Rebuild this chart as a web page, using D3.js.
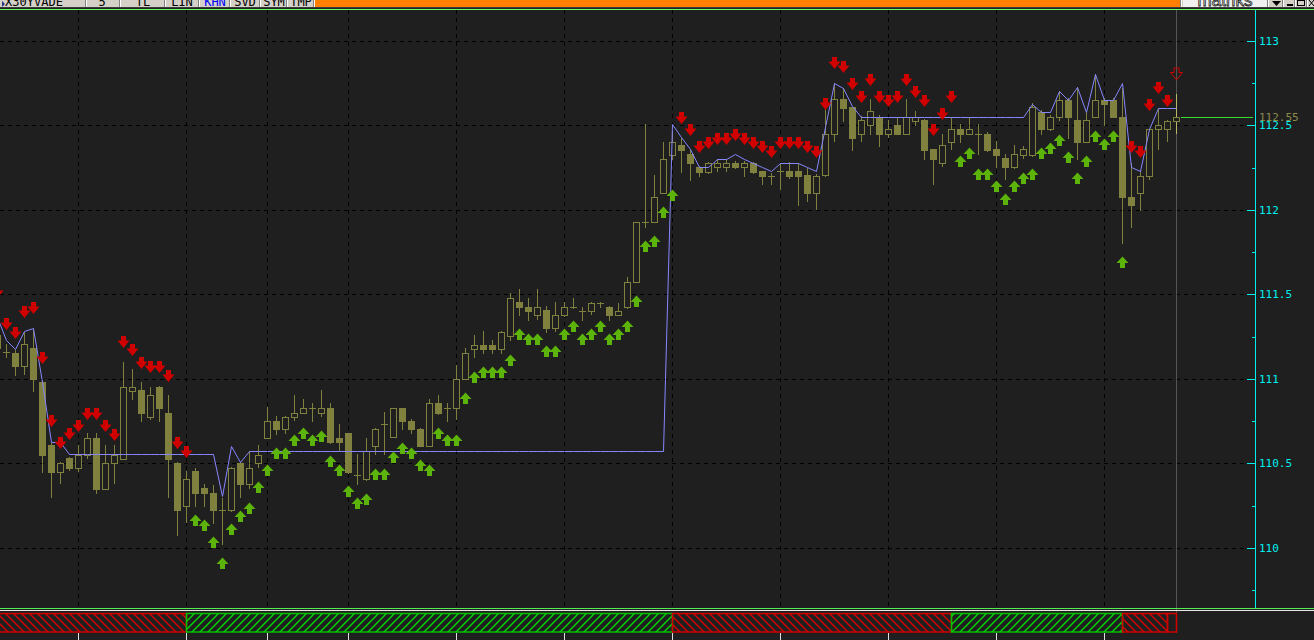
<!DOCTYPE html>
<html><head><meta charset="utf-8">
<script src="https://cdn.jsdelivr.net/npm/d3@7"></script>
<style>html,body{margin:0;padding:0;background:#1f1f1f;overflow:hidden}svg{display:block}</style>
</head><body>
<svg id="c" width="1314" height="640"></svg>
<script>
// ---- DATA (one entry per bar, oldest first) ----
const opens=[
111.26,111.159,111.155,111.076,111.18,110.981,110.607,110.449,110.53,110.473,
110.549,110.652,110.35,110.504,110.528,110.93,110.932,110.776,110.954,110.8,
110.504,110.247,110.453,110.352,110.327,110.226,110.224,110.504,110.38,110.504,
110.65,110.753,110.701,110.776,110.8,110.83,110.8,110.83,110.652,110.678,
110.429,110.405,110.602,110.731,110.654,110.83,110.753,110.705,110.602,110.855,
110.83,110.83,111.001,111.179,111.202,111.202,111.179,111.253,111.453,111.427,
111.378,111.405,111.3,111.378,111.427,111.403,111.401,111.451,111.427,111.378,
111.427,111.575,111.93,111.93,112.102,112.325,112.382,112.328,112.256,112.224,
112.256,112.256,112.279,112.256,112.279,112.23,112.2,112.23,112.228,112.228,
112.204,112.102,112.204,112.451,112.654,112.607,112.451,112.504,112.551,112.451,
112.504,112.451,112.525,112.53,112.358,112.279,112.404,112.48,112.451,112.451,
112.451,112.358,112.305,112.253,112.325,112.325,112.581,112.476,112.551,112.652,
112.53,112.401,112.551,112.652,112.652,112.551,112.078,112.102,112.2,112.48,
112.48,112.528];
const highs=[
111.30,111.204,111.17,111.275,111.293,110.99,110.62,110.51,110.54,110.607,
110.678,110.678,110.607,110.607,111.102,111.056,110.981,110.954,110.96,110.902,
110.51,110.454,110.475,110.38,110.37,110.297,110.48,110.51,110.573,110.607,
110.831,110.78,110.78,110.902,110.879,110.855,110.932,110.855,110.731,110.68,
110.553,110.652,110.71,110.806,110.83,110.83,110.76,110.71,110.879,110.902,
110.855,111.08,111.182,111.257,111.281,111.228,111.28,111.506,111.53,111.478,
111.53,111.43,111.453,111.453,111.48,111.427,111.455,111.455,111.43,111.451,
111.605,111.93,112.506,112.204,112.404,112.464,112.427,112.358,112.26,112.28,
112.299,112.3,112.29,112.29,112.28,112.23,112.22,112.279,112.28,112.279,
112.25,112.21,112.618,112.753,112.723,112.61,112.555,112.654,112.56,112.53,
112.549,112.654,112.583,112.54,112.36,112.451,112.549,112.506,112.549,112.506,
112.46,112.407,112.328,112.382,112.38,112.63,112.59,112.56,112.703,112.66,
112.729,112.579,112.802,112.66,112.66,112.723,112.279,112.234,112.48,112.601,
112.53,112.683];
const lows=[
111.15,111.127,111.021,111.027,110.928,110.449,110.301,110.386,110.46,110.454,
110.534,110.327,110.35,110.386,110.528,110.879,110.75,110.76,110.75,110.301,
110.074,110.153,110.247,110.247,110.145,110.025,110.22,110.303,110.356,110.48,
110.65,110.672,110.678,110.756,110.8,110.75,110.78,110.62,110.577,110.44,
110.38,110.4,110.553,110.553,110.654,110.705,110.678,110.6,110.6,110.79,
110.75,110.76,111.0,111.129,111.155,111.155,111.155,111.228,111.376,111.348,
111.356,111.277,111.281,111.37,111.42,111.348,111.382,111.427,111.348,111.375,
111.42,111.57,111.901,111.93,112.1,112.3,112.224,112.176,112.2,112.22,
112.23,112.23,112.25,112.2,112.22,112.153,112.155,112.125,112.19,112.027,
112.052,112.007,112.2,112.407,112.525,112.352,112.407,112.451,112.378,112.43,
112.45,112.45,112.504,112.303,112.151,112.259,112.358,112.404,112.45,112.328,
112.35,112.253,112.18,112.25,112.305,112.32,112.447,112.47,112.53,112.423,
112.303,112.4,112.55,112.502,112.55,111.806,111.898,112.0,112.18,112.362,
112.407,112.457];
const closes=[
111.18,111.159,111.076,111.204,110.997,110.549,110.449,110.504,110.47,110.549,
110.652,110.346,110.504,110.549,110.954,110.954,110.8,110.902,110.827,110.524,
110.222,110.405,110.324,110.324,110.224,110.226,110.475,110.376,110.475,110.551,
110.753,110.701,110.776,110.8,110.83,110.83,110.83,110.626,110.626,110.449,
110.429,110.573,110.705,110.731,110.83,110.75,110.705,110.602,110.855,110.8,
110.83,111.001,111.155,111.202,111.179,111.179,111.279,111.48,111.425,111.399,
111.427,111.299,111.38,111.427,111.427,111.403,111.451,111.451,111.378,111.403,
111.575,111.93,111.93,112.078,112.303,112.402,112.354,112.275,112.224,112.279,
112.279,112.279,112.256,112.279,112.224,112.2,112.2,112.23,112.2,112.2,
112.102,112.2,112.451,112.654,112.602,112.425,112.53,112.583,112.451,112.48,
112.451,112.551,112.551,112.354,112.303,112.382,112.48,112.451,112.48,112.451,
112.354,112.322,112.253,112.328,112.358,112.611,112.476,112.551,112.652,112.551,
112.401,112.53,112.652,112.626,112.551,112.078,112.031,112.2,112.48,112.504,
112.528,112.551];
const stopLine=[
111.364,111.228,111.175,111.283,111.303,110.979,110.628,110.628,110.553,110.553,
110.553,110.553,110.553,110.553,110.553,110.553,110.553,110.553,110.553,110.553,
110.553,110.553,110.553,110.553,110.553,110.307,110.602,110.508,110.573,110.573,
110.573,110.573,110.573,110.573,110.573,110.573,110.573,110.573,110.573,110.573,
110.573,110.573,110.573,110.573,110.573,110.573,110.573,110.573,110.573,110.573,
110.573,110.573,110.573,110.573,110.573,110.573,110.573,110.573,110.573,110.573,
110.573,110.573,110.573,110.573,110.573,110.573,110.573,110.573,110.573,110.573,
110.573,110.573,110.573,110.573,110.573,112.506,112.429,112.358,112.256,112.256,
112.303,112.303,112.328,112.303,112.279,112.256,112.23,112.279,112.279,112.279,
112.256,112.23,112.491,112.753,112.723,112.614,112.551,112.551,112.551,112.551,
112.551,112.551,112.551,112.551,112.551,112.551,112.551,112.551,112.551,112.551,
112.551,112.551,112.551,112.551,112.551,112.628,112.581,112.581,112.703,112.652,
112.727,112.581,112.802,112.652,112.652,112.753,112.256,112.23,112.48,112.601,
112.601,112.601];
// D = sell arrow above the bar, U = buy arrow below the bar, d = pending sell
const signals=[
"D","D","D","D","D","D","D","D","D","D","D","D","D","D","D","D","D","D","D","D","D","D",
"U","U","U","U","U","U","U","U","U","U","U","U","U","U","U","U","U","U","U","U","U","U","U","U","U","U","U",
"U","U","U","U","U","U","U","U","U","U","U","U","U","U","U","U","U","U","U","U","U","U","U","U","U","U","U",
"D","D","D","D","D","D","D","D","D","D","D","D","D","D","D","D","D","D","D","D","D","D","D","D","D","D","D","D","D","D","D",
"U","U","U","U","U","U","U","U","U","U","U","U","U","U","U","U","U","U","U",
"D","D","D","D","D","d"];
const arrowLevels=[
111.482,111.293,111.244,111.368,111.392,111.092,110.721,110.593,110.642,110.691,
110.765,110.765,110.691,110.638,111.191,111.141,111.064,111.04,111.04,110.987,
110.591,110.54,110.192,110.163,110.062,109.938,110.139,110.216,110.263,110.388,
110.488,110.589,110.589,110.666,110.711,110.666,110.689,110.541,110.488,110.364,
110.293,110.317,110.464,110.464,110.565,110.618,110.589,110.518,110.488,110.711,
110.666,110.666,110.914,111.038,111.068,111.068,111.068,111.139,111.293,111.263,
111.263,111.192,111.192,111.293,111.34,111.263,111.293,111.34,111.263,111.293,
111.34,111.488,111.814,111.843,112.015,112.115,112.516,112.445,112.344,112.368,
112.392,112.392,112.415,112.392,112.368,112.344,112.315,112.368,112.368,112.368,
112.344,112.315,112.595,112.841,112.815,112.715,112.638,112.738,112.638,112.614,
112.638,112.738,112.667,112.614,112.443,112.537,112.638,112.318,112.364,112.24,
112.24,112.169,112.092,112.169,112.216,112.24,112.364,112.393,112.441,112.34,
112.216,112.317,112.464,112.417,112.464,111.719,112.342,112.312,112.591,112.691,
112.614,112.776];
const gridBars=[9,21,30,39,51,63,75,87,99,111,123];
const yTicks=[110,110.5,111,111.5,112,112.5,113];
const yMinorTicks=[109.75,110.25,110.75,111.25,111.75,112.25,112.75];
const lastPrice=112.55;
const toolbarLabels=["X30YVADE","5","TL","LIN","KHN","SVD","SYM","TMP"];

// ---- DRAWING ----
const W=1314,H=640;
const BG="#1f1f1f", OLIVE="#80803f", RED="#d00000", GREEN="#5cb40a";
const svg=d3.select("#c");
const n=opens.length;
const x=d3.scaleLinear().domain([0,n-1]).range([-3,1176]);
const y=d3.scaleLinear().domain([110,113]).range([548.3,41.3])
  .interpolate((a,b)=>t=>Math.floor(a+(b-a)*t));

svg.append("rect").attr("width",W).attr("height",H).attr("fill",BG);
const defs=svg.append("defs");
defs.append("clipPath").attr("id","plot").append("rect").attr("x",0).attr("y",10).attr("width",1247).attr("height",598);
defs.append("clipPath").attr("id","tb").append("rect").attr("x",0).attr("y",0).attr("width",W).attr("height",7);
defs.append("clipPath").attr("id","strip").append("rect").attr("x",0).attr("y",611).attr("width",1250).attr("height",25);
const pr=defs.append("pattern").attr("id","hatchRed").attr("patternUnits","userSpaceOnUse").attr("width",8).attr("height",8);
pr.append("path").attr("d","M0,0L8,8M-1,7L1,9M7,-1L9,1").attr("stroke","#e00000").attr("stroke-width",1.3).attr("fill","none");
const pg=defs.append("pattern").attr("id","hatchGreen").attr("patternUnits","userSpaceOnUse").attr("width",8).attr("height",8);
pg.append("path").attr("d","M0,8L8,0M-1,1L1,-1M7,9L9,7").attr("stroke","#00e000").attr("stroke-width",1.3).attr("fill","none");

// grid
const grid=svg.append("g").attr("stroke","#000").attr("stroke-dasharray","4,4").attr("shape-rendering","crispEdges");
grid.selectAll("line.h").data(yTicks).enter().append("line").attr("class","h")
  .attr("x1",0).attr("x2",1247).attr("y1",d=>y(d)+0.5).attr("y2",d=>y(d)+0.5);
grid.selectAll("line.v").data(gridBars).enter().append("line").attr("class","v")
  .attr("x1",d=>x(d)+0.5).attr("x2",d=>x(d)+0.5).attr("y1",10).attr("y2",608);

// last-bar vertical cursor
svg.append("line").attr("x1",x(n-1)+0.5).attr("x2",x(n-1)+0.5).attr("y1",10).attr("y2",633)
  .attr("stroke","#555").attr("shape-rendering","crispEdges");

const plot=svg.append("g").attr("clip-path","url(#plot)").attr("shape-rendering","crispEdges");
const bars=d3.range(n);

// wicks
plot.selectAll("line.wick").data(bars).enter().append("line").attr("class","wick")
  .attr("x1",i=>x(i)+0.5).attr("x2",i=>x(i)+0.5)
  .attr("y1",i=>y(highs[i])).attr("y2",i=>y(lows[i])+1)
  .attr("stroke",i=>i===n-1?"#b8b866":OLIVE);
// bodies
bars.forEach(i=>{
  const o=opens[i],c=closes[i];
  const top=y(Math.max(o,c)), bot=y(Math.min(o,c));
  if(bot-top<1){
    plot.append("rect").attr("x",x(i)-3).attr("y",top).attr("width",7).attr("height",1).attr("fill",OLIVE);
  } else if(c<o){
    plot.append("rect").attr("x",x(i)-3).attr("y",top).attr("width",7).attr("height",bot-top+1).attr("fill",OLIVE);
  } else {
    plot.append("rect").attr("x",x(i)-2.5).attr("y",top+0.5).attr("width",6).attr("height",bot-top)
      .attr("fill",BG).attr("stroke",OLIVE).attr("stroke-width",1);
  }
});

// stop line
const line=d3.line().x(i=>x(i)+0.5).y(i=>y(stopLine[i])+0.5);
svg.append("g").attr("clip-path","url(#plot)").append("path").datum(bars).attr("d",line)
  .attr("fill","none").attr("stroke","#8686ff").attr("stroke-width",1);

// arrows
const arrows=svg.append("g").attr("clip-path","url(#plot)");
function downPath(cx,ty){return `M${cx-2},${ty-11}H${cx+3}V${ty-6.5}H${cx+6.5}L${cx+0.5},${ty+1}L${cx-5.5},${ty-6.5}H${cx-2}Z`;}
function upPath(cx,ty){return `M${cx+0.5},${ty-0.5}L${cx+6.5},${ty+6}H${cx+3}V${ty+11}H${cx-2}V${ty+6}H${cx-5.5}Z`;}
bars.forEach(i=>{
  const s=signals[i], ty=y(arrowLevels[i]), cx=x(i);
  if(s==="U") arrows.append("path").attr("d",upPath(cx,ty)).attr("fill",GREEN);
  else if(s==="D") arrows.append("path").attr("d",downPath(cx,ty)).attr("fill",RED);
  else arrows.append("path").attr("d",downPath(cx,ty)).attr("fill","none").attr("stroke",RED).attr("stroke-width",1);
});

// last price line + label
svg.append("line").attr("x1",1181).attr("x2",1253).attr("y1",y(lastPrice)+0.5).attr("y2",y(lastPrice)+0.5)
  .attr("stroke","#33dd33").attr("stroke-width",1).attr("shape-rendering","crispEdges");

// y axis
const axG=svg.append("g").attr("transform","translate(1255,0)");
axG.append("line").attr("x1",0.5).attr("x2",0.5).attr("y1",10).attr("y2",608).attr("stroke","#00f0f0").attr("shape-rendering","crispEdges");
const axMaj=axG.append("g").call(d3.axisRight(y).tickValues(yTicks).tickSize(-8).tickSizeOuter(0).tickPadding(4).tickFormat(d=>String(d)));
const axMin=axG.append("g").call(d3.axisRight(y).tickValues(yMinorTicks).tickSize(-3).tickSizeOuter(0).tickFormat(""));
[axMaj,axMin].forEach(g=>{
  g.select(".domain").remove();
  g.selectAll("line").attr("stroke","#00f0f0").attr("shape-rendering","crispEdges");
  g.selectAll("text").attr("fill","#00f0f0").attr("font-family","DejaVu Sans Mono").attr("font-size",11);
});
axG.append("text").attr("x",4).attr("y",y(lastPrice)).attr("dy","0.32em").attr("fill","#8c8c4c")
  .attr("font-family","DejaVu Sans Mono").attr("font-size",11).text(lastPrice.toFixed(2));

// separators
svg.append("line").attr("x1",0).attr("x2",W).attr("y1",608.5).attr("y2",608.5).attr("stroke","#55ee55");
svg.append("line").attr("x1",0).attr("x2",W).attr("y1",610.5).attr("y2",610.5).attr("stroke","#e8e8e8");
svg.append("line").attr("x1",0).attr("x2",W).attr("y1",9.5).attr("y2",9.5).attr("stroke","#66ff66");
svg.append("line").attr("x1",0).attr("x2",W).attr("y1",7.5).attr("y2",7.5).attr("stroke","#3a3a3a");

// signal strip
const runs=[];
bars.forEach(i=>{
  const last=runs[runs.length-1];
  if(last && last.s===signals[i]) last.e=i; else runs.push({s:signals[i],b:i,e:i});
});
const strip=svg.append("g").attr("clip-path","url(#strip)");
runs.forEach(r=>{
  const x0=x(r.b-1), x1=x(r.e);
  const col=r.s==="U"?"#00c000":"#d00000";
  strip.append("rect").attr("x",x0+0.5).attr("y",613.5).attr("width",x1-x0).attr("height",18.5)
    .attr("fill",r.s==="U"?"url(#hatchGreen)":(r.s==="D"?"url(#hatchRed)":"none"))
    .attr("stroke",col).attr("stroke-width",1.5);
});
svg.append("g").selectAll("line").data(gridBars).enter().append("line")
  .attr("x1",d=>x(d)+0.5).attr("x2",d=>x(d)+0.5).attr("y1",633).attr("y2",640)
  .attr("stroke","#e0e0e0").attr("shape-rendering","crispEdges");

// toolbar (top, mostly cut off)
const tb=svg.append("g").attr("clip-path","url(#tb)");
tb.append("rect").attr("width",W).attr("height",7).attr("fill","#d4d0c8");
tb.append("rect").attr("x",315).attr("width",866).attr("height",7).attr("fill","#ff8000");
const tbCenters=[34,102,143,182,215,245,274,301];
const tbEdges=[86,120,165,199,230,260,287,314,1181,1268,1283,1295,1307];
tbEdges.forEach(e=>{
  tb.append("line").attr("x1",e-0.5).attr("x2",e-0.5).attr("y1",0).attr("y2",7).attr("stroke","#808080");
  tb.append("line").attr("x1",e+0.5).attr("x2",e+0.5).attr("y1",0).attr("y2",7).attr("stroke","#ffffff");
});
toolbarLabels.forEach((t,j)=>{
  tb.append("text").attr("x",tbCenters[j]).attr("y",6).attr("text-anchor","middle")
    .attr("font-family","DejaVu Sans Mono").attr("font-size",12)
    .attr("fill",t==="KHN"?"#0000ff":"#000").text(t);
});
tb.append("path").attr("d","M2,1L5,4L2,7Z").attr("fill","#223388");
tb.append("rect").attr("x",1183).attr("y",0).attr("width",84).attr("height",7).attr("fill","#f0f0f0");
tb.append("text").attr("x",1225).attr("y",6).attr("text-anchor","middle").attr("font-family","Liberation Sans")
  .attr("font-size",17).attr("fill","#f0f0f0").attr("stroke","#222").attr("stroke-width",0.8).text("matriks");
tb.append("path").attr("d","M1272,1H1281L1276.5,6Z").attr("fill","#000");
tb.append("rect").attr("x",1287).attr("y",4).attr("width",6).attr("height",2).attr("fill","#000");
tb.append("rect").attr("x",1297.5).attr("y",0.5).attr("width",7).attr("height",5).attr("fill","none").attr("stroke","#000");
tb.append("path").attr("d","M1309,0L1314,6M1314,0L1309,6").attr("stroke","#000");
</script>
</body></html>
